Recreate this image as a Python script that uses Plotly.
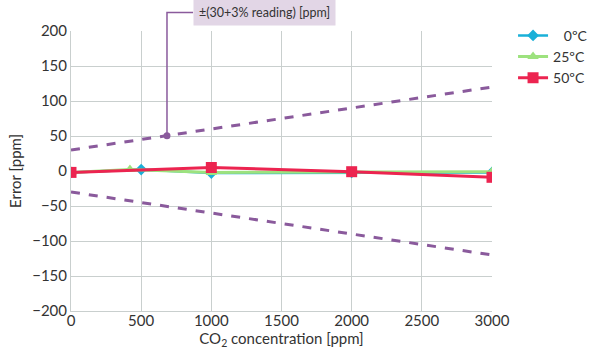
import plotly.graph_objects as go

# Sensor error vs. CO2 concentration at three temperatures
conc_0c = [0, 500, 1000, 2000, 3000]
err_0c = [-2, 2, -3, -2, -2]

conc_25c = [0, 420, 1000, 2000, 3000]
err_25c = [-2, 2, -2, -1, -1]

conc_50c = [0, 1000, 2000, 3000]
err_50c = [-2, 5, -1, -9]

# Specified accuracy envelope: ±(30 ppm + 3% of reading)
spec_conc = [0, 3000]
spec_offset = 30
spec_pct = 0.03
spec_upper = [spec_offset + spec_pct * c for c in spec_conc]
spec_lower = [-(spec_offset + spec_pct * c) for c in spec_conc]

# Reading at which the envelope callout points
callout_conc = 684
callout_err = spec_offset + spec_pct * callout_conc

x_range = [0, 3000]
y_range = [-200, 200]
x_ticks = [0, 500, 1000, 1500, 2000, 2500, 3000]
y_ticks = [-200, -150, -100, -50, 0, 50, 100, 150, 200]

FONT = "Lato"
TEXT = "#333333"
PURPLE = "#8a5a9c"
GRID = "#c9cfce"

fig = go.Figure()

for yy in (spec_upper, spec_lower):
    fig.add_trace(go.Scatter(
        x=spec_conc, y=yy, mode="lines",
        line=dict(color=PURPLE, width=3, dash="dash"),
        showlegend=False, hoverinfo="skip",
    ))

fig.add_trace(go.Scatter(
    x=conc_0c, y=err_0c, mode="lines+markers", name="\u00a0\u00a0\u00a00ºC",
    line=dict(color="#1ab0d8", width=2.5),
    marker=dict(symbol="diamond", size=9, color="#1ab0d8"),
))
fig.add_trace(go.Scatter(
    x=conc_25c, y=err_25c, mode="lines+markers", name="25ºC",
    line=dict(color="#9de27e", width=3),
    marker=dict(symbol="triangle-up", size=10, color="#9de27e"),
))
fig.add_trace(go.Scatter(
    x=conc_50c, y=err_50c, mode="lines+markers", name="50ºC",
    line=dict(color="#ec2450", width=3),
    marker=dict(symbol="square", size=11, color="#ec2450"),
))

# Callout dot on the upper envelope
fig.add_trace(go.Scatter(
    x=[callout_conc], y=[callout_err], mode="markers",
    marker=dict(color=PURPLE, size=7), showlegend=False, hoverinfo="skip",
))

# Elbow connector from the dot up to the label box
def frac(v, rng):
    return (v - rng[0]) / (rng[1] - rng[0])

cx = frac(callout_conc, x_range)
cy = frac(callout_err, y_range)
label_y = 1.066
box_left = 0.290
fig.add_shape(type="path",
              path=f"M {cx} {cy} L {cx} {label_y} L {box_left} {label_y}",
              xref="paper", yref="paper",
              line=dict(color=PURPLE, width=1.5))

fig.add_annotation(
    text="±(30+3% reading) [ppm]", xref="paper", yref="paper",
    x=box_left, y=label_y, xanchor="left", yanchor="middle",
    showarrow=False, bgcolor="#e2d6e6", borderpad=5,
    font=dict(family=FONT, size=12.5, color=TEXT),
)

axis_common = dict(
    showgrid=True, gridcolor=GRID, gridwidth=1,
    showline=True, linecolor=GRID, linewidth=1,
    zeroline=False, ticks="", automargin=False,
    tickfont=dict(family=FONT, size=15, color=TEXT),
)

fig.update_xaxes(range=x_range, tickvals=x_ticks, ticklabelstandoff=-4,
                 title=dict(text="CO<sub>2</sub> concentration [ppm]", standoff=0,
                            font=dict(family=FONT, size=15, color=TEXT)),
                 **axis_common)
fig.update_yaxes(range=y_range, tickvals=y_ticks,
                 title=dict(text="Error [ppm]", standoff=6,
                            font=dict(family=FONT, size=15, color=TEXT)),
                 **axis_common)

fig.update_layout(
    width=600, height=350,
    margin=dict(l=71, r=108, t=31, b=39, autoexpand=False),
    paper_bgcolor="white", plot_bgcolor="white",
    font=dict(family=FONT, size=15, color=TEXT),
    legend=dict(x=1.05, y=1.04, xanchor="left", yanchor="top",
                font=dict(family=FONT, size=14, color=TEXT),
                itemwidth=30, tracegroupgap=0, bgcolor="rgba(0,0,0,0)"),
)

fig.write_html("out.html")
